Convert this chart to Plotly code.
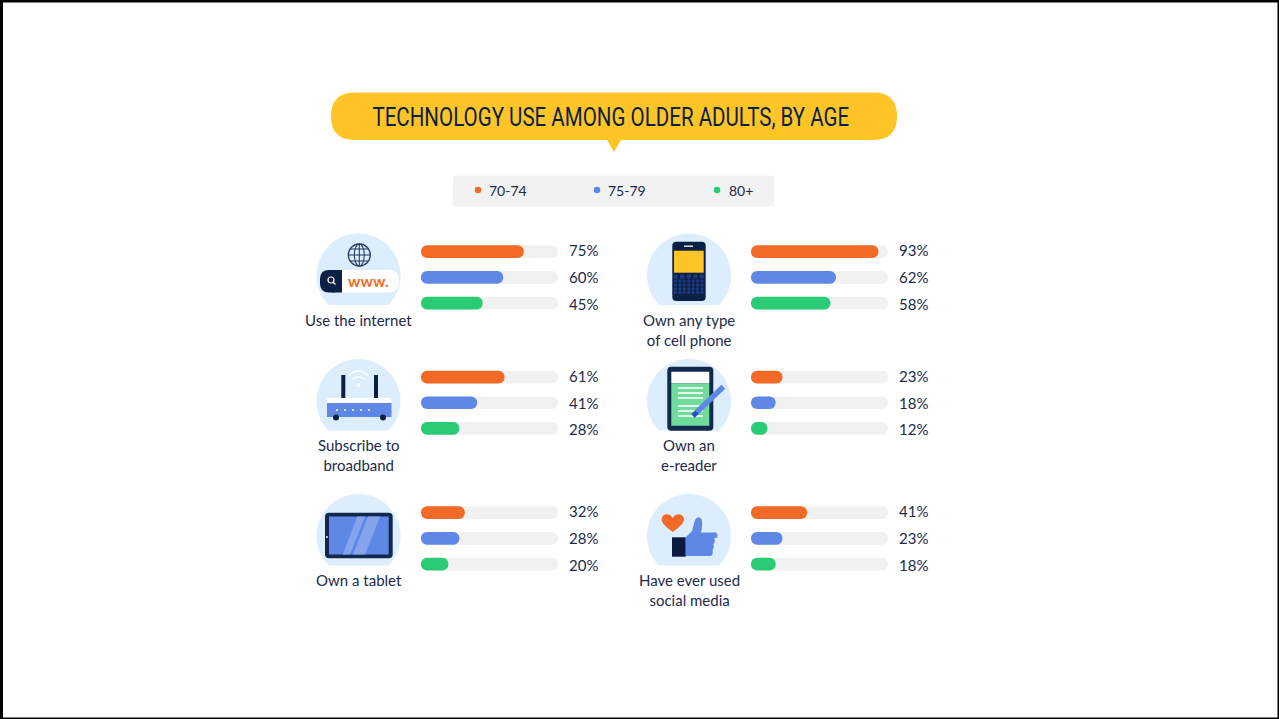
import math
import plotly.graph_objects as go

# Survey figures, percent of adults per age band
age_groups = ["70-74", "75-79", "80+"]
use_internet = [75, 60, 45]
cell_phone = [93, 62, 58]
broadband = [61, 41, 28]
e_reader = [23, 18, 12]
tablet = [32, 28, 20]
social_media = [41, 23, 18]
topic_labels = [
    "Use the internet", "Own any type<br>of cell phone",
    "Subscribe to<br>broadband", "Own an<br>e-reader",
    "Own a tablet", "Have ever used<br>social media",
]
title_text = "TECHNOLOGY USE AMONG OLDER ADULTS, BY AGE"

W, H = 1279, 719
ORANGE, BLUE, GREEN = "#f26a25", "#5e87e6", "#29cc75"
AGE_COLORS = [ORANGE, BLUE, GREEN]
TRACK = "#f1f1f1"
NAVY = "#0c1f45"
INK = "#1d2a4a"
HALO = "#dcedfd"
YELLOW = "#ffc425"
SANS = "Lato, 'Noto Sans', sans-serif"

series = [use_internet, cell_phone, broadband, e_reader, tablet, social_media]
# left edge of the bars, top of the first band, icon centre and caption centre per panel
panel_left = [421, 751] * 3
panel_top = [238.8, 238.8, 364.2, 364.2, 499.8, 499.8]
icon_cx = [358.5, 689] * 3
icon_top = [233.5, 233.5, 359, 359, 494, 494]
icon_cut = [305, 305, 430.5, 430.5, 565.5, 565.5]
caption_y = [320, 330, 455, 455, 580, 590]
BAND = 25.7
TRACK_W = 137
BAR_RADIUS = 6

fig = go.Figure()
layout = {}

for i, values in enumerate(series, start=1):
    left, top = panel_left[i - 1], panel_top[i - 1]
    layout[f"xaxis{i}"] = dict(domain=[left / W, (left + TRACK_W) / W], range=[0, 100],
                               visible=False, fixedrange=True, anchor=f"y{i}")
    layout[f"yaxis{i}"] = dict(domain=[1 - (top + 3 * BAND) / H, 1 - top / H],
                               type="category", categoryarray=age_groups,
                               categoryorder="array", range=[2.5, -0.5],
                               visible=False, fixedrange=True, anchor=f"x{i}")
    # an explicit base rounds both ends of the bar, not just the far one
    fig.add_trace(go.Bar(y=age_groups, x=[100] * 3, base=0, orientation="h", width=0.494,
                         marker=dict(color=TRACK, line_width=0, cornerradius=BAR_RADIUS),
                         xaxis=f"x{i}", yaxis=f"y{i}", showlegend=False, hoverinfo="skip"))
    fig.add_trace(go.Bar(y=age_groups, x=values, base=0, orientation="h", width=0.494,
                         marker=dict(color=AGE_COLORS, line_width=0, cornerradius=BAR_RADIUS),
                         xaxis=f"x{i}", yaxis=f"y{i}", showlegend=False))

# Full-canvas pixel axes carry the decorations and the key
layout["xaxis7"] = dict(domain=[0, 1], range=[0, W], visible=False, fixedrange=True, anchor="y7")
layout["yaxis7"] = dict(domain=[0, 1], range=[H, 0], visible=False, fixedrange=True, anchor="x7")

shapes = []
annotations = []


def add(kind, layer="above", **kw):
    shapes.append(dict(type=kind, xref="x7", yref="y7", layer=layer,
                       line=kw.pop("line", dict(width=0)), **kw))


def rect(x0, y0, x1, y1, color):
    add("rect", x0=x0, y0=y0, x1=x1, y1=y1, fillcolor=color)


def disc(cx, cy, r, color):
    add("circle", x0=cx - r, y0=cy - r, x1=cx + r, y1=cy + r, fillcolor=color)


def ring(cx, cy, rx, ry, color, width):
    add("circle", x0=cx - rx, y0=cy - ry, x1=cx + rx, y1=cy + ry,
        fillcolor="rgba(0,0,0,0)", line=dict(color=color, width=width))


def stroke(x0, y0, x1, y1, color, width):
    add("line", x0=x0, y0=y0, x1=x1, y1=y1, line=dict(color=color, width=width))


def poly(d, color):
    add("path", path=d, fillcolor=color)


def rounded(x0, y0, x1, y1, r, color, layer="above"):
    d = (f"M{x0 + r},{y0} L{x1 - r},{y0} Q{x1},{y0} {x1},{y0 + r} L{x1},{y1 - r} "
         f"Q{x1},{y1} {x1 - r},{y1} L{x0 + r},{y1} Q{x0},{y1} {x0},{y1 - r} "
         f"L{x0},{y0 + r} Q{x0},{y0} {x0 + r},{y0} Z")
    add("path", layer=layer, path=d, fillcolor=color)


def text(x, y, s, size=15, color=INK, anchor="center", family=SANS, weight=None):
    annotations.append(dict(x=x, y=y, xref="x7", yref="y7", text=s, showarrow=False,
                            xanchor=anchor, yanchor="middle", borderpad=0,
                            font=dict(family=family, size=size, color=color, weight=weight)))


def halo(cx, top, cut, r=42, steps=96):
    # Disc clipped flat along its lower edge, traced as a fine polygon over the top
    cy = top + r
    start = math.asin((cut - cy) / r)
    first = math.pi - start
    sweep = math.pi + 2 * start
    points = []
    for k in range(steps + 1):
        a = first + sweep * k / steps
        points.append(f"{cx + r * math.cos(a):.2f},{cy + r * math.sin(a):.2f}")
    poly("M" + " L".join(points) + " Z", HALO)


# Title banner with its pointer
rounded(331, 92.5, 897, 140, 23.7, YELLOW)
poly("M607,140 L621,140 L614,152 Z", YELLOW)
text(610.5, 116.5, title_text, size=26, color=NAVY, family="Roboto, sans-serif", weight=400)

# Key
rounded(453, 175.5, 774, 206.5, 3, "#f2f2f2", layer="below")
key_dot_x = [478, 597, 717]
key_text_x = [488, 607, 728]
fig.add_trace(go.Scatter(x=key_dot_x, y=[190] * 3, mode="markers", xaxis="x7", yaxis="y7",
                         marker=dict(size=6.5, color=AGE_COLORS, line_width=0),
                         showlegend=False, hoverinfo="skip"))
for x, label in zip(key_text_x, age_groups):
    text(x, 190, label, size=14, anchor="left")

for i in range(6):
    halo(icon_cx[i], icon_top[i], icon_cut[i])

# Globe and address bar
ring(359.3, 255, 11, 11, "#2b3f66", 1.3)
ring(359.3, 255, 5, 11, "#2b3f66", 1.1)
stroke(359.3, 244, 359.3, 266, "#2b3f66", 1.1)
stroke(348.3, 255, 370.3, 255, "#2b3f66", 1.1)
stroke(350, 249, 368.6, 249, "#2b3f66", 1.1)
stroke(350, 261, 368.6, 261, "#2b3f66", 1.1)
rounded(330, 270, 399, 292.5, 11, "white")
rounded(320, 270, 342, 292.5, 9, NAVY)
rect(332, 270, 342, 292.5, NAVY)
ring(331, 280, 3, 3, "white", 1.2)
stroke(333.2, 282.2, 335.5, 284.5, "white", 1.3)
annotations.append(dict(x=368.5, y=281, xref="x7", yref="y7", text="<b>www.</b>", showarrow=False,
                        font=dict(family="Lato, sans-serif", size=15.5, color=ORANGE)))

# Handset
rounded(672.3, 241.7, 705.7, 301, 4, NAVY)
rect(674, 250.7, 703.7, 272.7, YELLOW)
stroke(684, 246.2, 693, 246.2, "white", 1.3)
for row, ky in enumerate([276.5, 281, 285, 289, 292.5]):
    n = 5 if row == 0 else 7
    for k in range(n):
        kx = 675.5 + (26.5 / (n - 1)) * k
        disc(kx, ky, 2.3 if row == 0 else 1.7, "#1d3a80")

# Router
stroke(343.3, 375, 343.3, 398, NAVY, 4)
stroke(376, 375, 376, 398, NAVY, 4)
disc(358.5, 385, 2, "white")
add("path", path="M352.5,379.5 Q358.5,374 364.5,379.5", fillcolor="rgba(0,0,0,0)",
    line=dict(color="white", width=1.4))
add("path", path="M348.5,376 Q358.5,366 368.5,376", fillcolor="rgba(0,0,0,0)",
    line=dict(color="white", width=1.4))
rounded(327, 398, 391.5, 404, 2, "white")
rect(327, 403, 391.5, 417, BLUE)
disc(336, 417.5, 3, NAVY)
disc(383, 417.5, 3, NAVY)
for lx in [337, 345, 353, 361, 369]:
    disc(lx, 410, 1, "white")

# E-reader with stylus
rounded(667.3, 366.7, 713.3, 430.7, 4, "#10294d")
rect(671.3, 371.7, 709.3, 383.5, "white")
rect(671.3, 383.5, 709.3, 425.7, "#6fdc9c")
for ly in [388, 393, 398, 406, 411, 416]:
    stroke(678, ly, 703, ly, "white", 1.6)
stroke(723.3, 386.7, 697, 412, BLUE, 5.5)
stroke(697, 412, 693, 416, "#1f4fc4", 5)

# Tablet
rounded(325, 512.7, 392.7, 558.3, 4, "#10294d")
rect(329, 516.5, 388.7, 554.5, BLUE)
poly("M342.7,554.5 L350,554.5 L365,516.5 L357.3,516.5 Z", "#85a4ec")
poly("M353,554.5 L365,554.5 L380,516.5 L368,516.5 Z", "#85a4ec")
disc(327, 537, 0.9, "white")

# Heart and raised thumb
poly("M672.7,532 C664,526 661.5,522 661.7,519 C662,514 669,512 672.7,518 "
     "C676.5,512 683.5,514 684,519 C684,522 681.5,526 672.7,532 Z", ORANGE)
poly("M686,537 L692,531 L695,520 Q698,515 701.5,519 Q703,525 701,532.5 L716,532.5 "
     "Q719,535 716.5,538 L714,538 Q716,541 713.5,544 L713,544 Q715,547 712.5,550 "
     "Q713.5,554 711,556 L686,556 Z", BLUE)
rect(672, 537.3, 685.7, 556.7, "#0b1b3f")

# Captions
for i, label in enumerate(topic_labels):
    text(icon_cx[i], caption_y[i], label)

# Value labels sit past the end of each track, fanned slightly apart
label_nudge = [1.5, 0, -1]
for i, values in enumerate(series, start=1):
    for age, v, nudge in zip(age_groups, values, label_nudge):
        annotations.append(dict(x=100, y=age, xref=f"x{i}", yref=f"y{i}", text=f"{v}%",
                                showarrow=False, xanchor="left", xshift=9, yshift=nudge,
                                font=dict(family=SANS, size=15, color=INK)))

# Canvas frame: heavier along the top and left edges
frame = "#000000"
for x0, y0, x1, y1 in [(0, 0, 3, H), (0, 0, W, 2.5), (W - 1.5, 0, W, H), (0, H - 1.5, W, H)]:
    rect(x0, y0, x1, y1, frame)

fig.update_layout(width=W, height=H, autosize=False, margin=dict(l=0, r=0, t=0, b=0),
                  paper_bgcolor="white", plot_bgcolor="rgba(0,0,0,0)", barmode="overlay",
                  showlegend=False, hovermode=False,
                  shapes=shapes, annotations=annotations, **layout)

# The banner face is a condensed display cut: narrow the heading to the banner's measure
narrow_title = """
var el = Array.from(document.querySelectorAll('.annotation-text'))
    .find(function (t) { return t.textContent.indexOf('TECHNOLOGY') === 0; });
if (el) {
    var box = el.getBBox();
    var s = 477 / box.width;
    var cx = box.x + box.width / 2;
    el.setAttribute('transform', 'translate(' + cx * (1 - s) + ',0) scale(' + s + ',1)');
}
"""
fig.write_html("out.html", config=dict(displayModeBar=False), post_script=narrow_title)
